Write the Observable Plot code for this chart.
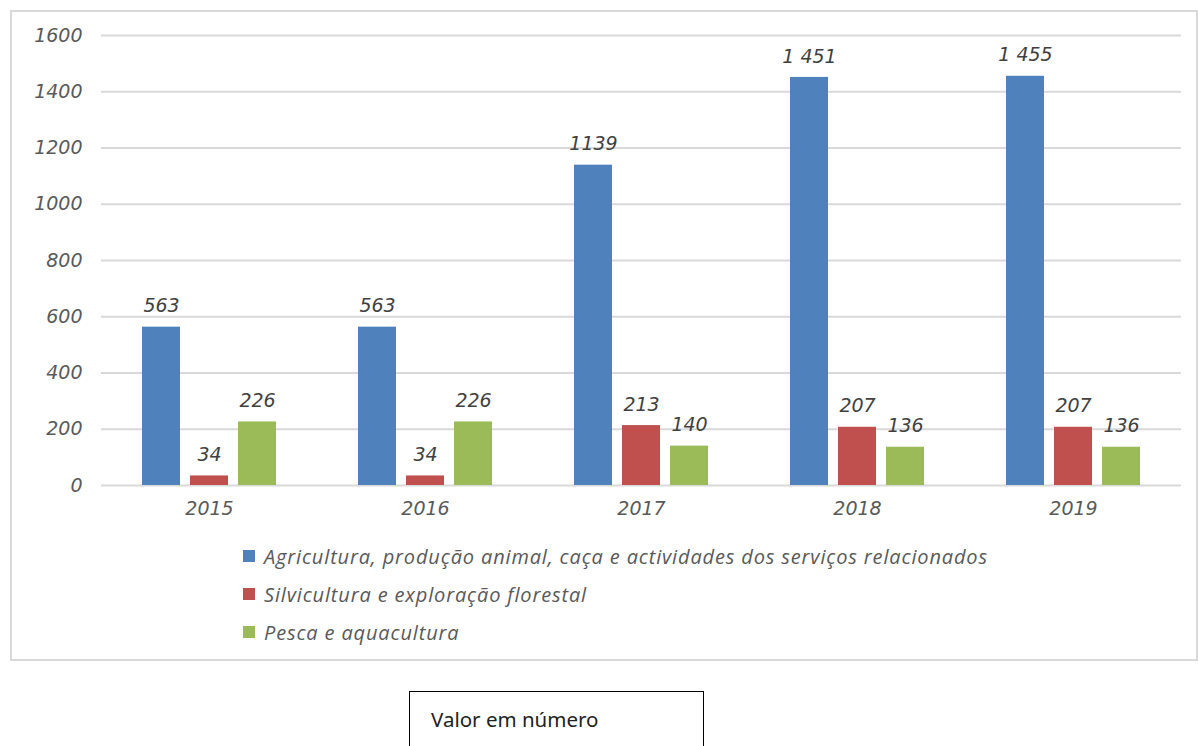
<!DOCTYPE html>
<html>
<head>
<meta charset="utf-8">
<script src="https://cdn.jsdelivr.net/npm/d3@7"></script>
<script src="https://cdn.jsdelivr.net/npm/@observablehq/plot@0.6"></script>
<style>
  html, body { margin: 0; padding: 0; background: #fff; width: 1198px; height: 746px; overflow: hidden; }
  #frame { position: absolute; left: 10px; top: 10px; width: 1188px; height: 651px; border: 2px solid #d9d9d9; box-sizing: border-box; }
  #chart { position: absolute; left: 0; top: 0; }
  #legend { position: absolute; left: 243px; top: 537px; font-family: "Open Sans", sans-serif; font-style: italic; font-size: 20px; letter-spacing: 0.85px; color: #595959; }
  .li { height: 38px; display: flex; align-items: center; }
  .sw { width: 12px; height: 12px; margin-right: 9px; }
  #note { position: absolute; left: 409px; top: 691px; width: 295px; height: 70px; border: 1.5px solid #000; box-sizing: border-box; font-family: "Noto Sans", sans-serif; font-size: 20.5px; color: #222; padding: 13px 0 0 21px; }
</style>
</head>
<body>
<div id="frame"></div>
<div id="chart"></div>
<div id="legend"></div>
<div id="note">Valor em número</div>
<script>
const years = ["2015", "2016", "2017", "2018", "2019"];
const series = [
  "Agricultura, produção animal, caça e actividades dos serviços relacionados",
  "Silvicultura e exploração florestal",
  "Pesca e aquacultura"
];
const colors = ["#4F81BD", "#C0504D", "#9BBB59"];
const agricultura = [563, 563, 1139, 1451, 1455];
const silvicultura = [34, 34, 213, 207, 207];
const pesca = [226, 226, 140, 136, 136];
const agriculturaLabels = ["563", "563", "1139", "1 451", "1 455"];
const silviculturaLabels = ["34", "34", "213", "207", "207"];
const pescaLabels = ["226", "226", "140", "136", "136"];
const yTicks = [0, 200, 400, 600, 800, 1000, 1200, 1400, 1600];

const valuesBySeries = [agricultura, silvicultura, pesca];
const labelsBySeries = [agriculturaLabels, silviculturaLabels, pescaLabels];
const data = [];
years.forEach((yr, i) => {
  series.forEach((s, j) => {
    data.push({year: yr, series: s, value: valuesBySeries[j][i], label: labelsBySeries[j][i]});
  });
});

const chart = Plot.plot({
  width: 1198,
  height: 530,
  marginLeft: 99,
  marginRight: 15,
  marginTop: 35,
  marginBottom: 45,
  style: { fontFamily: "'DejaVu Sans', sans-serif", background: "transparent", overflow: "visible" },
  fx: { domain: years, padding: 0, label: null, axis: null },
  x: { domain: series, paddingInner: 0.2, paddingOuter: 0.84, axis: null },
  y: { domain: [0, 1600], label: null },
  color: { domain: series, range: colors },
  marks: [
    Plot.ruleY(yTicks, { y: d => d, stroke: "#d9d9d9", strokeWidth: 2 }),
    Plot.axisY({ ticks: yTicks, tickFormat: d => String(d), tickSize: 0, tickPadding: 19, fontSize: 19, fontStyle: "italic", fill: "#595959", label: null }),
    Plot.axisFx({ anchor: "bottom", tickSize: 0, tickPadding: 16, fontSize: 19, fontStyle: "italic", fill: "#595959", label: null }),
    Plot.barY(data, { fx: "year", x: "series", y: "value", fill: "series" }),
    Plot.text(data, { fx: "year", x: "series", y: "value", text: "label", dy: -21, fontSize: 19, fontStyle: "italic", fill: "#404040" })
  ]
});
document.getElementById("chart").appendChild(chart);

const legend = document.getElementById("legend");
series.forEach((s, j) => {
  const row = document.createElement("div");
  row.className = "li";
  const sw = document.createElement("div");
  sw.className = "sw";
  sw.style.background = colors[j];
  const t = document.createElement("span");
  t.textContent = s;
  row.appendChild(sw);
  row.appendChild(t);
  legend.appendChild(row);
});
</script>
</body>
</html>
